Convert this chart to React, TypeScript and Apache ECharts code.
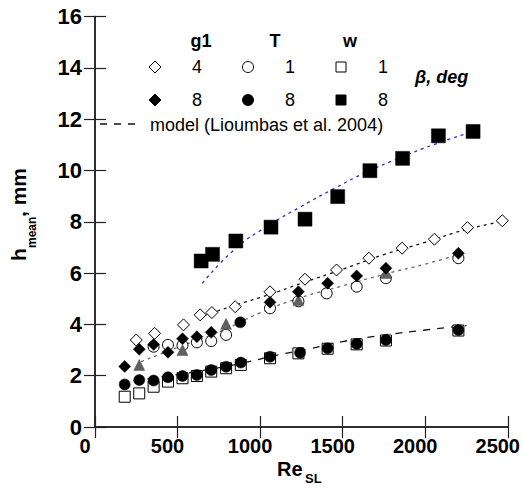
import React, { useEffect, useRef } from "react";
import * as echarts from "echarts";

// ---- data ----
const g1b4X = [250, 361, 536, 637, 708, 849, 1060, 1272, 1463, 1659, 1860, 2056, 2256, 2467];
const g1b4Y = [3.39, 3.65, 3.98, 4.37, 4.46, 4.69, 5.27, 5.76, 6.12, 6.58, 6.97, 7.32, 7.77, 8.04];

const g1b8X = [180, 268, 355, 442, 530, 617, 704, 1060, 1232, 1409, 1585, 1762, 2201];
const g1b8Y = [2.36, 3.03, 3.22, 2.91, 3.44, 3.52, 3.69, 4.86, 5.27, 5.6, 5.89, 6.19, 6.77];

const tb1X = [355, 442, 530, 617, 704, 794, 1060, 1232, 1403, 1585, 1762, 2201];
const tb1Y = [3.13, 3.2, 3.18, 3.3, 3.35, 3.59, 4.63, 4.9, 5.21, 5.47, 5.8, 6.58];

const tb8X = [180, 268, 355, 442, 530, 617, 704, 794, 883, 880, 1060, 1242, 1409, 1585, 1762, 2201];
const tb8Y = [1.66, 1.83, 1.81, 1.94, 1.99, 2.03, 2.22, 2.35, 2.51, 4.08, 2.74, 2.89, 3.07, 3.24, 3.39, 3.78];

const wb1X = [180, 268, 355, 442, 530, 617, 704, 794, 883, 1060, 1232, 1409, 1585, 1762, 2201];
const wb1Y = [1.18, 1.31, 1.57, 1.77, 1.9, 1.99, 2.16, 2.29, 2.42, 2.68, 2.87, 3.05, 3.22, 3.37, 3.76];

const wb8X = [643, 712, 853, 1066, 1272, 1470, 1665, 1863, 2080, 2290];
const wb8Y = [6.47, 6.73, 7.25, 7.79, 8.1, 8.98, 9.99, 10.47, 11.35, 11.52];

const triX = [268, 530, 794, 1232, 1762];
const triY = [2.42, 3.0, 4.02, 4.95, 6.0];

// model curves
const modelBlueX = [650, 850, 1050, 1250, 1450, 1650, 1850, 2050, 2280];
const modelBlueY = [5.6, 6.95, 7.85, 8.6, 9.3, 9.95, 10.5, 11.0, 11.5];

const modelUpperX = [620, 850, 1050, 1250, 1500, 1750, 2000, 2250, 2500];
const modelUpperY = [4.25, 4.75, 5.15, 5.6, 6.15, 6.72, 7.2, 7.7, 8.05];

const modelGrayX = [280, 500, 750, 1000, 1250, 1500, 1750, 2000, 2220];
const modelGrayY = [2.55, 3.1, 3.7, 4.45, 5.05, 5.5, 5.95, 6.35, 6.75];

const modelLowerX = [150, 400, 650, 900, 1100, 1300, 1500, 1750, 2000, 2250];
const modelLowerY = [1.75, 1.95, 2.2, 2.5, 2.8, 3.05, 3.33, 3.58, 3.78, 3.95];

const xTicks = { min: 0, max: 2500, interval: 500 };
const yTicks = { min: 0, max: 16, interval: 2 };

const FONT = "'Liberation Sans', Arial, sans-serif";

const zip = (xs: number[], ys: number[]) => xs.map((x, i) => [x, ys[i]]);

export default function App() {
  const ref = useRef<HTMLDivElement>(null);
  useEffect(() => {
    if (!ref.current) return;
    const chart = echarts.init(ref.current, undefined, { renderer: "svg" });

    const axisCommon = {
      axisLine: { show: true, lineStyle: { color: "#222", width: 1.5 } },
      axisTick: { show: true, inside: true, length: 11, lineStyle: { color: "#222", width: 1.2 } },
      splitLine: { show: false },
    };

    const open = { color: "#fff", borderColor: "#000", borderWidth: 1, opacity: 1 };
    const filled = { color: "#000", borderColor: "#000", borderWidth: 0.5, opacity: 1 };

    const lineSeries = (xs: number[], ys: number[], color: string, type: any, width = 1.3) => ({
      type: "line",
      data: zip(xs, ys),
      showSymbol: false,
      smooth: 0.5,
      silent: true,
      lineStyle: { color, width, type },
      z: 1,
    });

    const sc = (xs: number[], ys: number[], symbol: string, size: number, style: any, z = 3) => ({
      type: "scatter",
      data: zip(xs, ys),
      symbol,
      symbolSize: size,
      itemStyle: style,
      z,
    });

    const dia = (x: number, y: number, fill: string) => ({
      type: "polygon",
      shape: { points: [[x, y - 6], [x + 6, y], [x, y + 6], [x - 6, y]] },
      style: { fill, stroke: "#000", lineWidth: 1 },
    });
    const circ = (x: number, y: number, fill: string) => ({
      type: "circle",
      shape: { cx: x, cy: y, r: 5.5 },
      style: { fill, stroke: "#000", lineWidth: 1 },
    });
    const sq = (x: number, y: number, fill: string) => ({
      type: "rect",
      shape: { x: x - 5, y: y - 5, width: 10, height: 10 },
      style: { fill, stroke: "#000", lineWidth: 1 },
    });
    const txt = (x: number, y: number, text: string, size: number, weight = "normal", style = "normal", align = "center") => ({
      type: "text",
      x,
      y,
      style: {
        text,
        fill: "#000",
        font: `${style} ${weight} ${size}px ${FONT}`,
        textAlign: align,
        textVerticalAlign: "middle",
      },
    });

    chart.setOption({
      animation: false,
      grid: { left: 95, right: 15, top: 16.5, bottom: 77, containLabel: false },
      xAxis: [
        {
          type: "value",
          position: "bottom",
          ...xTicks,
          ...axisCommon,
          axisLabel: {
            fontSize: 20,
            fontWeight: "bold",
            color: "#000",
            fontFamily: FONT,
            margin: 9,
            padding: [0, 20, 0, 0],
            formatter: (v: number) => String(v),
          },
        },
        {
          type: "value",
          position: "top",
          ...xTicks,
          ...axisCommon,
          axisLabel: { show: false },
        },
      ],
      yAxis: [
        {
          type: "value",
          position: "left",
          ...yTicks,
          ...axisCommon,
          axisLabel: {
            fontSize: 22,
            fontWeight: "bold",
            color: "#000",
            fontFamily: FONT,
            margin: 13,
            formatter: (v: number) => String(v),
          },
        },
        {
          type: "value",
          position: "right",
          ...yTicks,
          ...axisCommon,
          axisLabel: { show: false },
        },
      ],
      series: [
        lineSeries(modelBlueX, modelBlueY, "#2a2acc", [3, 4]),
        lineSeries(modelUpperX, modelUpperY, "#111", [3, 4]),
        lineSeries(modelGrayX, modelGrayY, "#666", [3, 4]),
        lineSeries(modelLowerX, modelLowerY, "#111", [7, 7]),
        sc(wb1X, wb1Y, "rect", 11, open, 3),
        sc(tb1X, tb1Y, "circle", 11, open, 3),
        sc(g1b4X, g1b4Y, "diamond", 12, open, 4),
        sc(triX, triY, "triangle", 11, { color: "#606060", borderColor: "#505050", borderWidth: 0.5, opacity: 1 }, 4),
        sc(tb8X, tb8Y, "circle", 11, filled, 5),
        sc(g1b8X, g1b8Y, "diamond", 12, filled, 6),
        sc(wb8X, wb8Y, "rect", 14, filled, 6),
      ],
      graphic: [
        txt(201, 41, "g1", 18, "bold"),
        txt(275, 41, "T", 18, "bold"),
        txt(350, 41, "w", 18, "bold"),
        dia(155, 67, "#fff"),
        txt(197, 67, "4", 18),
        circ(248, 67, "#fff"),
        txt(290, 67, "1", 18),
        sq(341, 67, "#fff"),
        txt(383, 67, "1", 18),
        dia(155, 100, "#000"),
        txt(197, 100, "8", 18),
        circ(248, 100, "#000"),
        txt(290, 100, "8", 18),
        sq(341, 100, "#000"),
        txt(383, 100, "8", 18),
        txt(415, 77, "β, deg", 18, "bold", "italic", "left"),
        {
          type: "line",
          shape: { x1: 100, y1: 124, x2: 136, y2: 124 },
          style: { stroke: "#111", lineWidth: 1.3, lineDash: [7, 7] },
        },
        txt(150, 125, "model (Lioumbas et al. 2004)", 18, "normal", "normal", "left"),
        // x-axis title
        txt(277, 469, "Re", 20, "bold", "normal", "left"),
        txt(305, 478, "SL", 13, "bold", "normal", "left"),
        // y-axis title (rotated)
        {
          type: "group",
          x: 18,
          y: 261,
          rotation: Math.PI / 2,
          children: [
            txt(0, 0, "h", 21, "bold", "normal", "left"),
            txt(13, 14, "mean", 12, "bold", "normal", "left"),
            txt(44, 0, ", mm", 21, "bold", "normal", "left"),
          ],
        },
      ],
    });

    return () => chart.dispose();
  }, []);

  return (
    <div
      ref={ref}
      style={{ position: "absolute", left: 0, top: 0, width: 523, height: 504, background: "#fff" }}
    />
  );
}
